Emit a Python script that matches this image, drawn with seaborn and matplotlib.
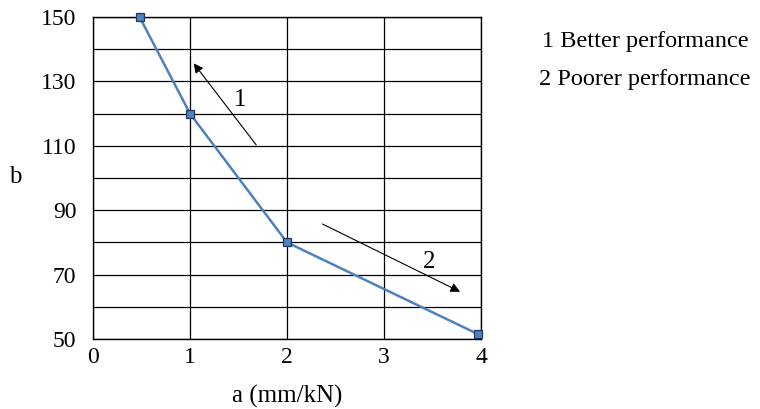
import matplotlib
matplotlib.use("Agg")
import matplotlib.pyplot as plt
import seaborn as sns
import pandas as pd
import numpy as np

# data
a_vals = [0.48, 1.0, 2.0, 3.97]
b_vals = [150, 120, 80, 51.5]
x_ticks = [0, 1, 2, 3, 4]
y_ticks = [50, 70, 90, 110, 130, 150]
legend_lines = ["1 Better performance", "2 Poorer performance"]

df = pd.DataFrame({"a": a_vals, "b": b_vals})

sns.set_style("white")
plt.rcParams['font.family'] = ['Liberation Serif', 'DejaVu Serif']
plt.rcParams['text.color'] = 'black'

fig = plt.figure(figsize=(7.6, 4.09), dpi=100)
ax = fig.add_axes([0.1224, 0.1711, 0.6329 - 0.1224, 0.9584 - 0.1711])

sns.lineplot(data=df, x="a", y="b", ax=ax, color="#4f81bd", linewidth=1.8,
             marker="s", markersize=6, markerfacecolor="#4f81bd",
             markeredgecolor="#1f3864", markeredgewidth=0.9, clip_on=False, zorder=5)

ax.set_xlim(0, 4)
ax.set_ylim(50, 150)
ax.set_xticks(x_ticks)
ax.set_yticks(np.arange(50, 151, 10))
ax.set_yticklabels([str(v) if v in y_ticks else "" for v in range(50, 151, 10)])
ax.grid(True, color="black", linewidth=0.9)
ax.set_axisbelow(True)
for s in ax.spines.values():
    s.set_color("black")
    s.set_linewidth(1.0)
ax.tick_params(axis="both", length=0, labelsize=17, colors="black")
ax.tick_params(axis="y", pad=12)
ax.tick_params(axis="x", pad=6)

ax.set_xlabel("a (mm/kN)", fontsize=18, labelpad=12, color="black")
ax.set_ylabel("b", fontsize=18, rotation=0, color="black")
ax.yaxis.set_label_coords(-0.2, 0.47)

# arrows with labels
ax.annotate("", xy=(1.02, 136.3), xytext=(1.70, 109.6),
            arrowprops=dict(arrowstyle="-|>", color="black", lw=0.8, mutation_scale=14))
ax.text(1.52, 124.2, "1", fontsize=18, ha="center", va="center")
ax.annotate("", xy=(3.81, 64.3), xytext=(2.34, 86.1),
            arrowprops=dict(arrowstyle="-|>", color="black", lw=0.8, mutation_scale=14))
ax.text(3.47, 73.9, "2", fontsize=18, ha="center", va="center")

fig.text(0.849, 1 - 42 / 409, legend_lines[0], fontsize=17.5, ha="center", va="center")
fig.text(0.849, 1 - 79 / 409, legend_lines[1], fontsize=17.5, ha="center", va="center")

fig.savefig("out.png", dpi=100)
